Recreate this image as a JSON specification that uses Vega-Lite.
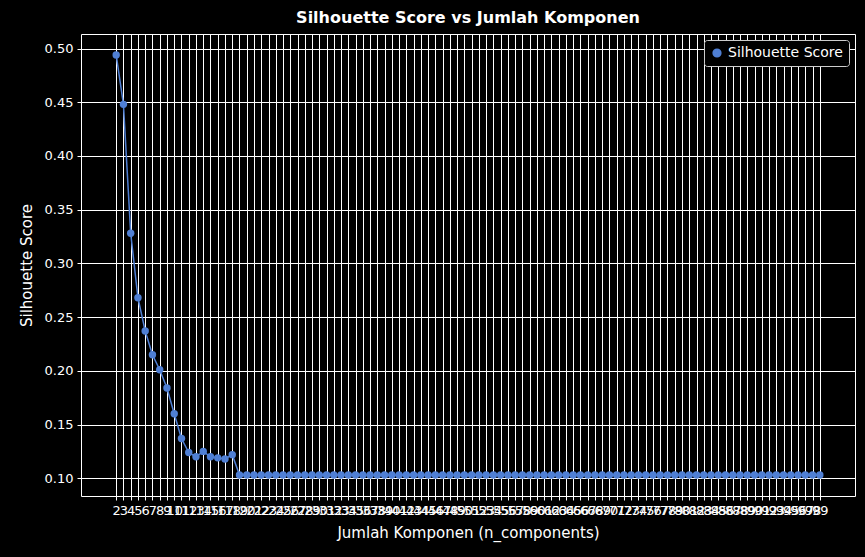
{
  "$schema": "https://vega.github.io/schema/vega-lite/v6.json",
  "autosize": "none",
  "width": 774,
  "height": 462,
  "padding": {"left": 81, "top": 34, "right": 10, "bottom": 61},
  "background": "black",
  "title": {"text": "Silhouette Score vs Jumlah Komponen", "color": "white", "fontSize": 16, "font": "DejaVu Sans", "fontWeight": "bold", "offset": 8},
  "data": {"values": [
    {"n": 2, "s": 0.494}, {"n": 3, "s": 0.448}, {"n": 4, "s": 0.328}, {"n": 5, "s": 0.268},
    {"n": 6, "s": 0.237}, {"n": 7, "s": 0.215}, {"n": 8, "s": 0.201}, {"n": 9, "s": 0.184},
    {"n": 10, "s": 0.160}, {"n": 11, "s": 0.137}, {"n": 12, "s": 0.124}, {"n": 13, "s": 0.120},
    {"n": 14, "s": 0.125}, {"n": 15, "s": 0.120}, {"n": 16, "s": 0.119}, {"n": 17, "s": 0.118},
    {"n": 18, "s": 0.122}, {"n": 19, "s": 0.103}, {"n": 20, "s": 0.103}, {"n": 21, "s": 0.103},
    {"n": 22, "s": 0.103}, {"n": 23, "s": 0.103}, {"n": 24, "s": 0.103}, {"n": 25, "s": 0.103},
    {"n": 26, "s": 0.103}, {"n": 27, "s": 0.103}, {"n": 28, "s": 0.103}, {"n": 29, "s": 0.103},
    {"n": 30, "s": 0.103}, {"n": 31, "s": 0.103}, {"n": 32, "s": 0.103}, {"n": 33, "s": 0.103},
    {"n": 34, "s": 0.103}, {"n": 35, "s": 0.103}, {"n": 36, "s": 0.103}, {"n": 37, "s": 0.103},
    {"n": 38, "s": 0.103}, {"n": 39, "s": 0.103}, {"n": 40, "s": 0.103}, {"n": 41, "s": 0.103},
    {"n": 42, "s": 0.103}, {"n": 43, "s": 0.103}, {"n": 44, "s": 0.103}, {"n": 45, "s": 0.103},
    {"n": 46, "s": 0.103}, {"n": 47, "s": 0.103}, {"n": 48, "s": 0.103}, {"n": 49, "s": 0.103},
    {"n": 50, "s": 0.103}, {"n": 51, "s": 0.103}, {"n": 52, "s": 0.103}, {"n": 53, "s": 0.103},
    {"n": 54, "s": 0.103}, {"n": 55, "s": 0.103}, {"n": 56, "s": 0.103}, {"n": 57, "s": 0.103},
    {"n": 58, "s": 0.103}, {"n": 59, "s": 0.103}, {"n": 60, "s": 0.103}, {"n": 61, "s": 0.103},
    {"n": 62, "s": 0.103}, {"n": 63, "s": 0.103}, {"n": 64, "s": 0.103}, {"n": 65, "s": 0.103},
    {"n": 66, "s": 0.103}, {"n": 67, "s": 0.103}, {"n": 68, "s": 0.103}, {"n": 69, "s": 0.103},
    {"n": 70, "s": 0.103}, {"n": 71, "s": 0.103}, {"n": 72, "s": 0.103}, {"n": 73, "s": 0.103},
    {"n": 74, "s": 0.103}, {"n": 75, "s": 0.103}, {"n": 76, "s": 0.103}, {"n": 77, "s": 0.103},
    {"n": 78, "s": 0.103}, {"n": 79, "s": 0.103}, {"n": 80, "s": 0.103}, {"n": 81, "s": 0.103},
    {"n": 82, "s": 0.103}, {"n": 83, "s": 0.103}, {"n": 84, "s": 0.103}, {"n": 85, "s": 0.103},
    {"n": 86, "s": 0.103}, {"n": 87, "s": 0.103}, {"n": 88, "s": 0.103}, {"n": 89, "s": 0.103},
    {"n": 90, "s": 0.103}, {"n": 91, "s": 0.103}, {"n": 92, "s": 0.103}, {"n": 93, "s": 0.103},
    {"n": 94, "s": 0.103}, {"n": 95, "s": 0.103}, {"n": 96, "s": 0.103}, {"n": 97, "s": 0.103},
    {"n": 98, "s": 0.103}, {"n": 99, "s": 0.103}
  ]},
  "mark": {"type": "line", "point": {"size": 55, "filled": true, "opacity": 1}, "strokeWidth": 1.5},
  "encoding": {
    "x": {"field": "n", "type": "quantitative", "title": "Jumlah Komponen (n_components)",
      "scale": {"domain": [-2.85, 103.85], "nice": false, "zero": false},
      "axis": {"values": [2,3,4,5,6,7,8,9,10,11,12,13,14,15,16,17,18,19,20,21,22,23,24,25,26,27,28,29,30,31,32,33,34,35,36,37,38,39,40,41,42,43,44,45,46,47,48,49,50,51,52,53,54,55,56,57,58,59,60,61,62,63,64,65,66,67,68,69,70,71,72,73,74,75,76,77,78,79,80,81,82,83,84,85,86,87,88,89,90,91,92,93,94,95,96,97,98,99], "labelOverlap": false, "labelFlush": false, "titlePadding": 8}},
    "y": {"field": "s", "type": "quantitative", "title": "Silhouette Score",
      "scale": {"domain": [0.0835, 0.5135], "nice": false, "zero": false},
      "axis": {"values": [0.1,0.15,0.2,0.25,0.3,0.35,0.4,0.45,0.5], "format": ".2f", "titlePadding": 10}},
    "color": {"datum": "Silhouette Score", "type": "nominal",
      "scale": {"range": ["#4f7fd4"]},
      "legend": {"title": null, "orient": "top-right", "symbolType": "circle", "symbolStrokeWidth": 1.5,
        "labelColor": "white", "labelFontSize": 14, "labelFont": "DejaVu Sans",
        "fillColor": "black", "strokeColor": "#cccccc", "padding": 6, "cornerRadius": 3, "offset": 6, "symbolSize": 60}}
  },
  "config": {
    "view": {"stroke": "white", "strokeWidth": 1},
    "axis": {"grid": true, "gridColor": "white", "gridOpacity": 1, "gridWidth": 1, "domain": false,
      "tickColor": "white", "tickSize": 4, "labelColor": "white", "titleColor": "white",
      "labelFont": "DejaVu Sans", "titleFont": "DejaVu Sans", "labelFontSize": 13, "titleFontSize": 15, "titleFontWeight": "normal", "labelPadding": 4}
  }
}
